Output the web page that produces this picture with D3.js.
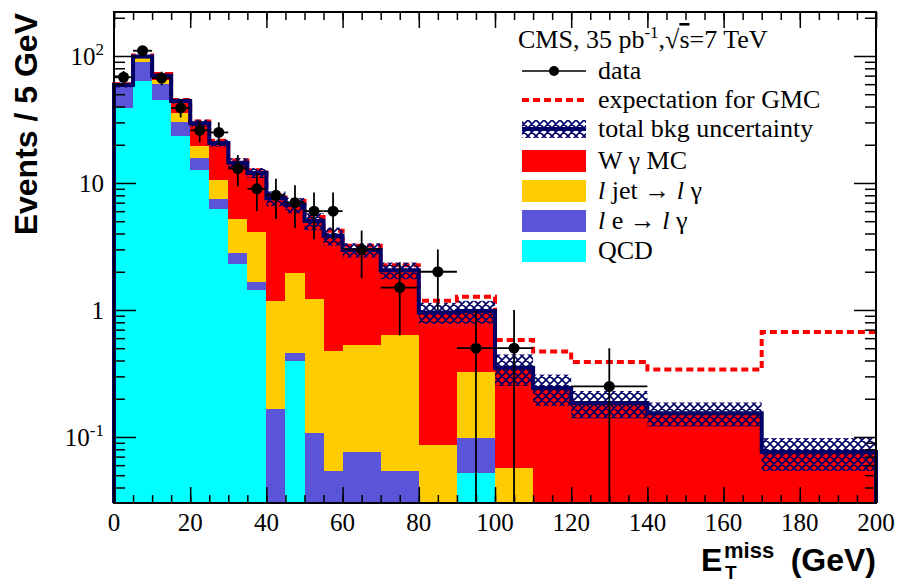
<!DOCTYPE html>
<html>
<head>
<meta charset="utf-8">
<script src="https://cdn.jsdelivr.net/npm/d3@7"></script>
<style>
  body { margin: 0; background: #fff; }
  svg { display: block; }
  .serif { font-family: 'Liberation Serif', 'Times New Roman', serif; }
  .title { font-family: 'Liberation Sans', Arial, sans-serif; font-weight: bold; }
</style>
</head>
<body>
<div id="chart"></div>
<script>
// MC binning in MET (GeV)
var binEdges = [0, 5, 10, 15, 20, 25, 30, 35, 40, 45, 50, 55, 60, 70, 80, 90, 100, 110, 120, 140, 170, 200];

// stacked backgrounds, events / 5 GeV (bottom to top)
var qcd    = [39, 64, 45, 23.4, 12.7, 6.2, 2.3, 1.44, 0, 0.4, 0, 0, 0, 0, 0, 0.052, 0, 0, 0, 0, 0];
var leGam  = [18, 26, 15, 7, 3, 1.3, 0.5, 0.22, 0.166, 0.06, 0.108, 0.054, 0.076, 0.054, 0, 0.046, 0, 0, 0, 0, 0];
var ljet   = [1.5, 7, 5, 5.3, 3.9, 3.1, 2.4, 2.45, 1.01, 1.5, 1.11, 0.42, 0.454, 0.58, 0.087, 0.227, 0.057, 0, 0, 0, 0];
var wgamma = [0.5, 2, 5, 8.5, 10, 10, 9.2, 7.9, 6.4, 4.74, 3.8, 3.36, 2.44, 1.42, 0.87, 0.655, 0.293, 0.243, 0.185, 0.154, 0.076];

// total background uncertainty (+/-) and GMC expectation
var bkgUnc = [2.5, 3, 2.5, 1.9, 1.9, 1.3, 1.3, 1.1, 1.0, 0.93, 0.77, 0.62, 0.38, 0.31, 0.18, 0.2, 0.097, 0.067, 0.045, 0.033, 0.022];
var gmc    = [60, 101, 72, 45, 30.5, 21.5, 15, 12.6, 8, 7.2, 5.4, 4.2, 3.2, 2.25, 1.18, 1.27, 0.58, 0.47, 0.39, 0.34, 0.67];

// data points
var dataLo  = [0, 5, 10, 15, 20, 25, 30, 35, 40, 45, 50, 55, 60, 70, 80, 90, 100, 120];
var dataHi  = [5, 10, 15, 20, 25, 30, 35, 40, 45, 50, 55, 60, 70, 80, 90, 100, 110, 140];
var dataVal = [68, 110, 67, 39, 26, 25, 13, 9, 8, 7, 6, 6, 3, 1.5, 2, 0.5, 0.5, 0.25];
var dataErr = [8.2, 10.5, 8.2, 6.2, 5.1, 5, 3.6, 3, 2.8, 2.6, 2.4, 2.4, 1.22, 0.87, 1, 0.5, 0.5, 0.25];

// axis ticks
var xTicks = [0, 20, 40, 60, 80, 100, 120, 140, 160, 180, 200];
var xMinor = d3.range(0, 201, 5);
var yTicks = [0.1, 1, 10, 100];
var yTickBase = ['10', '1', '10', '10'];
var yTickExp  = ['-1', '', '', '2'];

var colors = {qcd: '#00ffff', le: '#5a54d8', ljet: '#ffcc00', wg: '#ff0000', bkg: '#000066'};

var margin = {top: 12, left: 114},
    width = 762,
    height = 491,
    yMin = 0.0302, yMax = 222;

var svg = d3.select('#chart').append('svg')
    .attr('width', 898)
    .attr('height', 585);

var defs = svg.append('defs');
var pat = defs.append('pattern')
    .attr('id', 'xhatch')
    .attr('patternUnits', 'userSpaceOnUse')
    .attr('width', 8)
    .attr('height', 8);
pat.append('path')
    .attr('d', 'M0,0L8,8M8,0L0,8M-1,7L1,9M7,-1L9,1')
    .attr('stroke', colors.bkg)
    .attr('stroke-width', 1.6)
    .attr('fill', 'none');

var g = svg.append('g')
    .attr('transform', 'translate(' + margin.left + ',' + margin.top + ')');

var x = d3.scaleLinear().domain([0, 200]).range([0, width]);
var y = d3.scaleLog().domain([yMin, yMax]).range([height, 0]).clamp(true);

function yv(v) { return v <= yMin ? height : y(v); }

// build stack
var layers = [
  {key: 'qcd', values: qcd},
  {key: 'le', values: leGam},
  {key: 'ljet', values: ljet},
  {key: 'wg', values: wgamma}
];
var bins = binEdges.slice(0, -1).map(function(x0, i) { return {x0: x0, x1: binEdges[i + 1], i: i}; });
var pieces = [];
var totals = bins.map(function(b) {
  var base = 0;
  layers.forEach(function(l) {
    var v = l.values[b.i];
    if (v > 0) pieces.push({x0: b.x0, x1: b.x1, y0: base, y1: base + v, key: l.key});
    base += v;
  });
  return base;
});

g.selectAll('.stack')
    .data(pieces)
  .enter().append('rect')
    .attr('class', 'stack')
    .attr('x', function(d) { return x(d.x0); })
    .attr('width', function(d) { return x(d.x1) - x(d.x0); })
    .attr('y', function(d) { return yv(d.y1); })
    .attr('height', function(d) { return yv(d.y0) - yv(d.y1); })
    .attr('fill', function(d) { return colors[d.key]; })
    .attr('shape-rendering', 'crispEdges');

function stepPath(vals, close) {
  var p = 'M' + x(binEdges[0]) + ',' + height;
  vals.forEach(function(v, i) {
    p += 'V' + yv(v) + 'H' + x(binEdges[i + 1]);
  });
  return close ? p + 'V' + height : p;
}

// GMC expectation
g.append('path')
    .attr('d', stepPath(gmc, false))
    .attr('fill', 'none')
    .attr('stroke', '#ff0000')
    .attr('stroke-width', 4)
    .attr('stroke-dasharray', '7,4');

// uncertainty band
g.selectAll('.unc')
    .data(bins)
  .enter().append('rect')
    .attr('class', 'unc')
    .attr('x', function(d) { return x(d.x0); })
    .attr('width', function(d) { return x(d.x1) - x(d.x0); })
    .attr('y', function(d) { return yv(totals[d.i] + bkgUnc[d.i]); })
    .attr('height', function(d) { return yv(totals[d.i] - bkgUnc[d.i]) - yv(totals[d.i] + bkgUnc[d.i]); })
    .attr('fill', 'url(#xhatch)');

// total background line
g.append('path')
    .attr('d', stepPath(totals, true))
    .attr('fill', 'none')
    .attr('stroke', colors.bkg)
    .attr('stroke-width', 4);

// data
var pts = dataVal.map(function(v, i) { return {lo: dataLo[i], hi: dataHi[i], v: v, e: dataErr[i]}; });
var dg = g.selectAll('.pt')
    .data(pts)
  .enter().append('g')
    .attr('class', 'pt');
dg.append('line')
    .attr('x1', function(d) { return x(d.lo); })
    .attr('x2', function(d) { return x(d.hi); })
    .attr('y1', function(d) { return y(d.v); })
    .attr('y2', function(d) { return y(d.v); })
    .attr('stroke', '#000')
    .attr('stroke-width', 1.8);
dg.append('line')
    .attr('x1', function(d) { return x((d.lo + d.hi) / 2); })
    .attr('x2', function(d) { return x((d.lo + d.hi) / 2); })
    .attr('y1', function(d) { return yv(d.v + d.e); })
    .attr('y2', function(d) { return yv(d.v - d.e); })
    .attr('stroke', '#000')
    .attr('stroke-width', 1.8);
dg.append('circle')
    .attr('cx', function(d) { return x((d.lo + d.hi) / 2); })
    .attr('cy', function(d) { return y(d.v); })
    .attr('r', 5.5)
    .attr('fill', '#000');

// axes: ticks on all four sides, pointing inward
var yMinor = [];
[0.01, 0.1, 1, 10, 100].forEach(function(dec) {
  for (var k = 2; k <= 9; k++) {
    var v = dec * k;
    if (v >= yMin && v <= yMax) yMinor.push(v);
  }
});

function tickAxis(axis, vals, size) {
  return axis.tickValues(vals).tickSizeInner(size).tickSizeOuter(0).tickFormat('');
}

var axes = [
  {ax: tickAxis(d3.axisBottom(x), xTicks, -16), t: 'translate(0,' + height + ')'},
  {ax: tickAxis(d3.axisBottom(x), xMinor, -8), t: 'translate(0,' + height + ')'},
  {ax: tickAxis(d3.axisTop(x), xTicks, -16), t: 'translate(0,0)'},
  {ax: tickAxis(d3.axisTop(x), xMinor, -8), t: 'translate(0,0)'},
  {ax: tickAxis(d3.axisLeft(y), yTicks, -22), t: 'translate(0,0)'},
  {ax: tickAxis(d3.axisLeft(y), yMinor, -11), t: 'translate(0,0)'},
  {ax: tickAxis(d3.axisRight(y), yTicks, -22), t: 'translate(' + width + ',0)'},
  {ax: tickAxis(d3.axisRight(y), yMinor, -11), t: 'translate(' + width + ',0)'}
];
axes.forEach(function(a) {
  var ag = g.append('g').attr('transform', a.t).call(a.ax);
  ag.select('.domain').remove();
  ag.selectAll('line').attr('stroke', '#000').attr('stroke-width', 1.5);
});

g.append('rect')
    .attr('width', width)
    .attr('height', height)
    .attr('fill', 'none')
    .attr('stroke', '#000')
    .attr('stroke-width', 2);

// tick labels
g.selectAll('.xlab')
    .data(xTicks)
  .enter().append('text')
    .attr('class', 'xlab serif')
    .attr('x', function(d) { return x(d); })
    .attr('y', height + 28)
    .attr('text-anchor', 'middle')
    .style('font-size', '25px')
    .text(function(d) { return d; });

var yl = g.selectAll('.ylab')
    .data(yTicks)
  .enter().append('text')
    .attr('class', 'ylab serif')
    .attr('x', -10)
    .attr('y', function(d) { return y(d) + 9; })
    .attr('text-anchor', 'end')
    .style('font-size', '25px');
yl.append('tspan').text(function(d, i) { return yTickBase[i]; });
yl.append('tspan')
    .attr('dy', -10)
    .style('font-size', '17px')
    .text(function(d, i) { return yTickExp[i]; });

// axis titles
svg.append('text')
    .attr('class', 'title')
    .attr('transform', 'translate(37,13) rotate(-90)')
    .attr('text-anchor', 'end')
    .style('font-size', '32px')
    .text('Events / 5 GeV');

var xt = svg.append('text')
    .attr('class', 'title')
    .attr('x', 701)
    .attr('y', 571)
    .style('font-size', '32px');
xt.append('tspan').text('E');
xt.append('tspan').attr('x', 724).attr('y', 558).style('font-size', '22px').text('miss');
svg.append('text')
    .attr('class', 'title')
    .attr('x', 725)
    .attr('y', 579)
    .style('font-size', '19px')
    .text('T');
svg.append('text')
    .attr('class', 'title')
    .attr('x', 876)
    .attr('y', 571)
    .attr('text-anchor', 'end')
    .style('font-size', '32px')
    .text('(GeV)');

// legend
var hdr = svg.append('text')
    .attr('class', 'serif')
    .attr('x', 518)
    .attr('y', 48)
    .style('font-size', '26px');
hdr.append('tspan').text('CMS, 35 pb');
hdr.append('tspan').attr('dy', -10).style('font-size', '17px').text('-1');
hdr.append('tspan').attr('dy', 10).text(',\u221A');
hdr.append('tspan').style('text-decoration', 'overline').text('s');
hdr.append('tspan').text('=7 TeV');

var legY = [71, 100, 129, 161, 191, 221, 251];
var lx0 = 522, lx1 = 586, ltx = 598;
var leg = svg.append('g');

leg.append('line').attr('x1', lx0).attr('x2', lx1).attr('y1', legY[0]).attr('y2', legY[0])
    .attr('stroke', '#000').attr('stroke-width', 1.5);
leg.append('circle').attr('cx', (lx0 + lx1) / 2).attr('cy', legY[0]).attr('r', 5).attr('fill', '#000');

leg.append('line').attr('x1', lx0).attr('x2', lx1).attr('y1', legY[1]).attr('y2', legY[1])
    .attr('stroke', '#ff0000').attr('stroke-width', 4).attr('stroke-dasharray', '7,4');

leg.append('rect').attr('x', lx0).attr('y', legY[2] - 9).attr('width', lx1 - lx0).attr('height', 18)
    .attr('fill', 'url(#xhatch)');
leg.append('line').attr('x1', lx0).attr('x2', lx1).attr('y1', legY[2]).attr('y2', legY[2])
    .attr('stroke', colors.bkg).attr('stroke-width', 4);

var boxKeys = ['wg', 'ljet', 'le', 'qcd'];
boxKeys.forEach(function(k, i) {
  leg.append('rect')
      .attr('x', lx0)
      .attr('y', legY[i + 3] - 11)
      .attr('width', lx1 - lx0)
      .attr('height', 22)
      .attr('fill', colors[k]);
});

var legText = [
  [{t: 'data'}],
  [{t: 'expectation for GMC'}],
  [{t: 'total bkg uncertainty'}],
  [{t: 'W \u03B3 MC'}],
  [{t: 'l', i: true}, {t: ' jet \u2192 '}, {t: 'l', i: true}, {t: ' \u03B3'}],
  [{t: 'l', i: true}, {t: ' e \u2192 '}, {t: 'l', i: true}, {t: ' \u03B3'}],
  [{t: 'QCD'}]
];
legText.forEach(function(parts, i) {
  var t = leg.append('text')
      .attr('class', 'serif')
      .attr('x', ltx)
      .attr('y', legY[i] + 8)
      .style('font-size', '26px');
  parts.forEach(function(p) {
    t.append('tspan').style('font-style', p.i ? 'italic' : null).text(p.t);
  });
});
</script>
</body>
</html>
